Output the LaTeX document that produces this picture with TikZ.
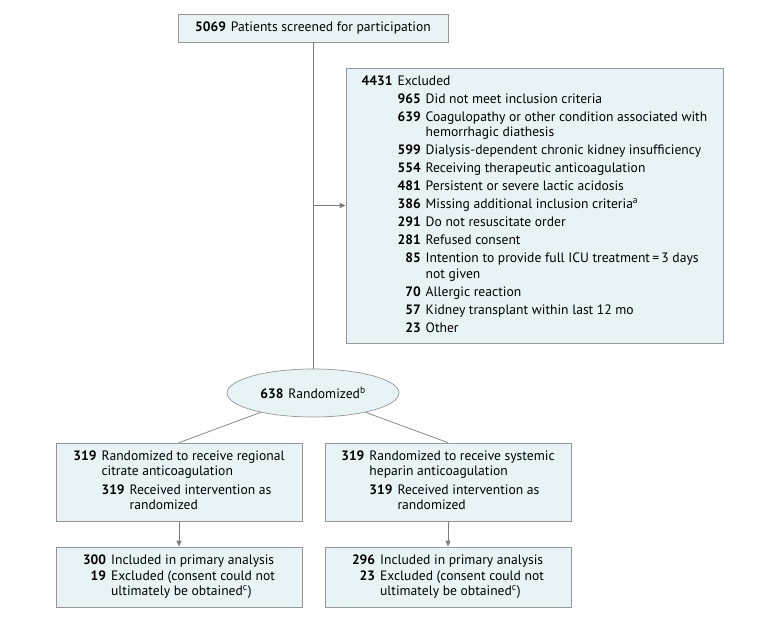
\documentclass[tikz,border=0pt]{standalone}
\usepackage{fontspec}
\setmainfont{PT Sans}
\usepackage{tikz}
\usetikzlibrary{arrows.meta, shapes.geometric}

\definecolor{boxfill}{RGB}{232,243,245}
\definecolor{boxline}{RGB}{150,150,150}
\definecolor{linkgray}{RGB}{125,125,125}

\begin{document}
\begin{tikzpicture}[x=1pt, y=-1pt,
    every node/.style={font=\fontsize{13.6}{15.5}\selectfont, inner sep=0pt},
    flowbox/.style={draw=boxline, fill=boxfill, line width=0.7pt, rectangle},
    link/.style={draw=linkgray, line width=0.7pt},
    arr/.style={link, -{Triangle[length=6pt, width=5pt]}}]
    \useasboundingbox (0, 0) rectangle (780, 620);

    % Screening
    \node[flowbox, minimum width=270pt, minimum height=28pt] (screen) at (313, 28)
        {\textbf{5069}\hspace{5pt}Patients screened for participation};

    % Exclusions
    \node[flowbox, minimum width=377pt, minimum height=275pt] (excl) at (534.5, 205.5) {%
        \begin{tabular}{@{}r@{\hspace{5pt}}r@{\hspace{5pt}}l@{}}
        \textbf{4431} & \multicolumn{2}{@{}l@{}}{Excluded}\\[2.5pt]
        & \textbf{965} & Did not meet inclusion criteria\\[2.5pt]
        & \textbf{639} & Coagulopathy or other condition associated with\\
        & & hemorrhagic diathesis\\[2.5pt]
        & \textbf{599} & Dialysis-dependent chronic kidney insufficiency\\[2.5pt]
        & \textbf{554} & Receiving therapeutic anticoagulation\\[2.5pt]
        & \textbf{481} & Persistent or severe lactic acidosis\\[2.5pt]
        & \textbf{386} & Missing additional inclusion criteria\textsuperscript{a}\\[2.5pt]
        & \textbf{291} & Do not resuscitate order\\[2.5pt]
        & \textbf{281} & Refused consent\\[2.5pt]
        & \textbf{85} & Intention to provide full ICU treatment\,=\,3 days\\
        & & not given\\[2.5pt]
        & \textbf{70} & Allergic reaction\\[2.5pt]
        & \textbf{57} & Kidney transplant within last 12 mo\\[2.5pt]
        & \textbf{23} & Other
        \end{tabular}};

    % Randomization
    \node[ellipse, draw=boxline, fill=boxfill, line width=0.7pt,
          minimum width=172pt, minimum height=48pt] (rand) at (313, 393)
        {\textbf{638}\hspace{5pt}Randomized\textsuperscript{b}};

    % Allocation
    \node[flowbox, minimum width=246pt, minimum height=78pt] (armA) at (179, 482) {%
        \begin{tabular}{@{}r@{\hspace{5pt}}l@{\hspace{5pt}}l@{}}
        \textbf{319} & \multicolumn{2}{@{}l@{}}{Randomized to receive regional}\\
        & \multicolumn{2}{@{}l@{}}{citrate anticoagulation}\\[3pt]
        & \textbf{319} & Received intervention as\\
        & & randomized
        \end{tabular}};
    \node[flowbox, minimum width=246pt, minimum height=78pt] (armB) at (448, 482) {%
        \begin{tabular}{@{}r@{\hspace{5pt}}l@{\hspace{5pt}}l@{}}
        \textbf{319} & \multicolumn{2}{@{}l@{}}{Randomized to receive systemic}\\
        & \multicolumn{2}{@{}l@{}}{heparin anticoagulation}\\[3pt]
        & \textbf{319} & Received intervention as\\
        & & randomized
        \end{tabular}};

    % Analysis
    \node[flowbox, minimum width=246pt, minimum height=60pt] (anaA) at (179, 577) {%
        \begin{tabular}{@{}r@{\hspace{5pt}}l@{}}
        \textbf{300} & Included in primary analysis\\
        \textbf{19} & Excluded (consent could not\\
        & ultimately be obtained\textsuperscript{c})
        \end{tabular}};
    \node[flowbox, minimum width=246pt, minimum height=60pt] (anaB) at (448, 577) {%
        \begin{tabular}{@{}r@{\hspace{5pt}}l@{}}
        \textbf{296} & Included in primary analysis\\
        \textbf{23} & Excluded (consent could not\\
        & ultimately be obtained\textsuperscript{c})
        \end{tabular}};

    % Connectors
    \draw[link] (screen) -- (rand);
    \draw[arr] (screen.south |- excl.west) -- (excl.west);
    \draw[link] (rand) -- (armA.north);
    \draw[link] (rand) -- (armB.north);
    \draw[arr] (armA) -- (anaA);
    \draw[arr] (armB) -- (anaB);
\end{tikzpicture}
\end{document}
